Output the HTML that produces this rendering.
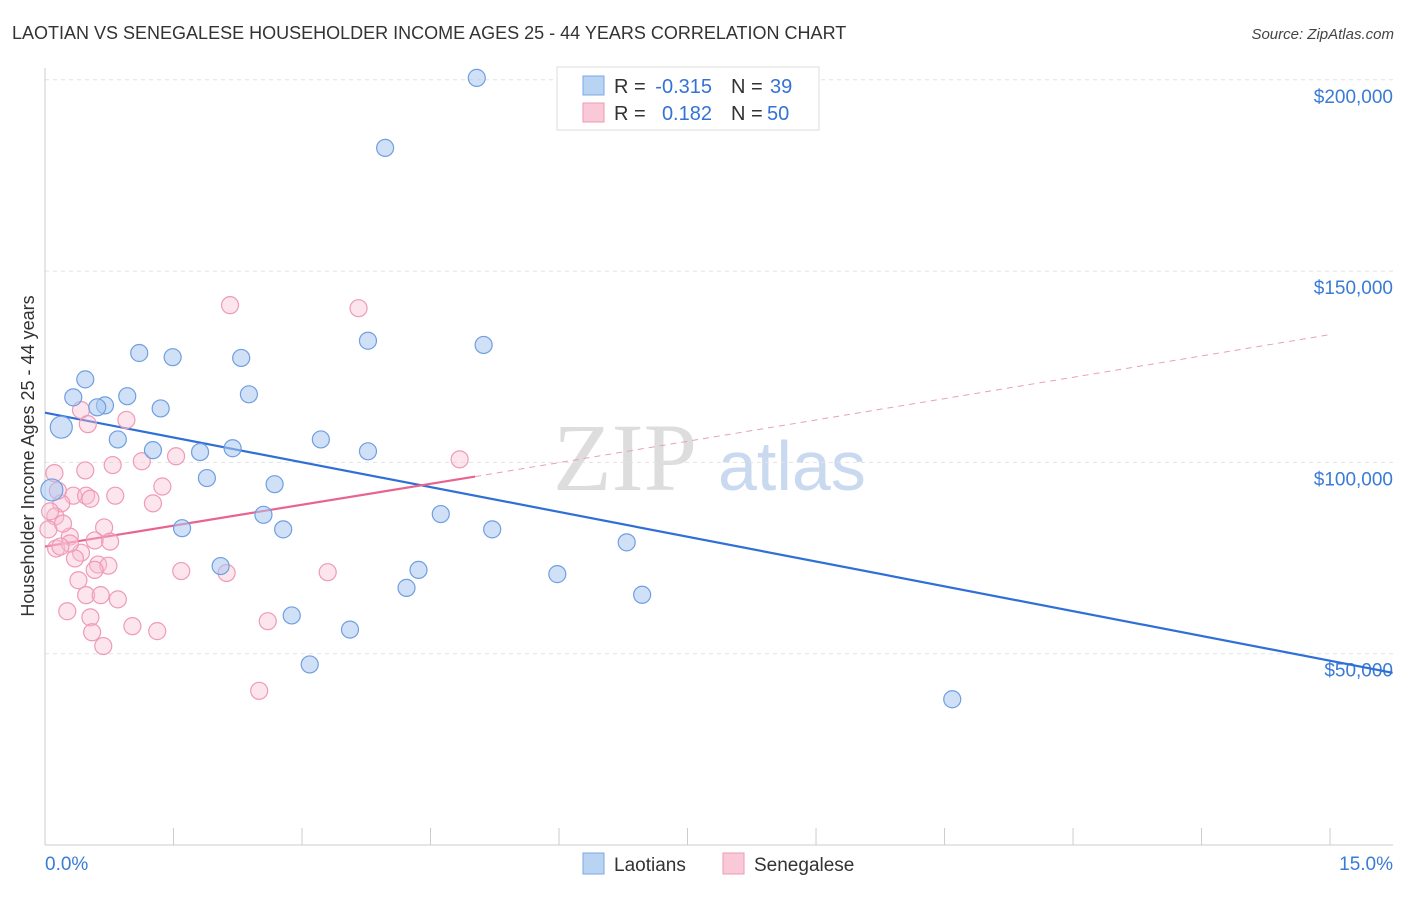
<!DOCTYPE html>
<html><head><meta charset="utf-8"><style>
body{margin:0;background:#fff;font-family:"Liberation Sans",sans-serif}
</style></head><body>
<svg id="chart" width="1406" height="892" xmlns="http://www.w3.org/2000/svg" font-family="Liberation Sans, sans-serif">
<text x="12" y="39" font-size="18" fill="#333">LAOTIAN VS SENEGALESE HOUSEHOLDER INCOME AGES 25 - 44 YEARS CORRELATION CHART</text>
<text x="1394" y="39" font-size="15" fill="#444" text-anchor="end" font-style="italic">Source: ZipAtlas.com</text>
<text transform="translate(34,456) rotate(-90)" font-size="18" fill="#333" text-anchor="middle">Householder Income Ages 25 - 44 years</text>
<g><text x="553" y="490" font-size="96" fill="#ddd" font-family="Liberation Serif, serif">ZIP</text><text x="718" y="490" font-size="70" fill="#c9d9ef">atlas</text></g>
<g id="grid"></g><g id="axes"></g><g id="lines"></g><g id="pts"></g>
<g>
<rect x="557" y="67" width="262" height="63" fill="#fff" stroke="#ddd"/>
<rect x="583" y="76" width="21" height="19" fill="#b9d3f3" stroke="#7aaae6"/>
<rect x="583" y="103" width="21" height="19" fill="#f9c9d8" stroke="#ee9ab5"/>
<text x="614" y="93" font-size="20" fill="#333">R =</text>
<text x="712" y="93" font-size="20" fill="#3473d4" text-anchor="end">-0.315</text>
<text x="731" y="93" font-size="20" fill="#333">N =</text>
<text x="770" y="93" font-size="20" fill="#3473d4">39</text>
<text x="614" y="120" font-size="20" fill="#333">R =</text>
<text x="712" y="120" font-size="20" fill="#3473d4" text-anchor="end">0.182</text>
<text x="731" y="120" font-size="20" fill="#333">N =</text>
<text x="767" y="120" font-size="20" fill="#3473d4">50</text>
</g>
<g>
<rect x="583" y="853" width="21" height="21" fill="#b9d3f3" stroke="#7aaae6"/>
<text x="614" y="871" font-size="19" fill="#333">Laotians</text>
<rect x="723" y="853" width="21" height="21" fill="#f9c9d8" stroke="#ee9ab5"/>
<text x="754" y="871" font-size="19" fill="#333">Senegalese</text>
</g>
</svg>
<script>
const yTicks=[50000,100000,150000,200000];
const yTickLabels=["$50,000","$100,000","$150,000","$200,000"];
const blueX=[5.04,3.97,1.10,1.49,2.29,3.77,5.12,0.47,0.33,0.96,0.70,1.35,2.38,0.19,0.85,1.26,1.81,2.19,3.22,3.77,1.89,2.68,0.08,2.55,4.62,1.60,2.78,5.22,6.79,2.05,4.36,4.22,5.98,6.97,2.88,3.56,3.09,10.59,0.61];
const blueY=[200500,182200,128600,127500,127300,131800,130700,121700,117000,117300,114900,114100,117800,109200,106000,103200,102700,103700,106000,102900,95900,94300,92800,86300,86500,82800,82500,82500,79100,72900,71900,67200,70800,65400,60000,56300,47200,38100,114400];
const pinkX=[2.16,3.66,0.42,0.50,0.95,0.11,0.79,1.13,1.53,4.84,0.33,0.48,0.82,1.37,1.26,0.19,0.12,0.04,0.69,0.29,0.58,0.76,0.13,0.42,0.35,0.62,0.74,0.58,1.59,2.12,3.30,0.39,0.48,0.65,0.85,0.26,0.53,1.02,1.31,2.60,0.55,0.68,2.50,0.21,0.15,0.29,0.47,0.53,0.18,0.06];
const pinkY=[141100,140300,113700,110000,111100,97200,99300,100300,101600,100800,91300,91300,91300,93700,89300,89300,85900,82500,83000,80600,79600,79300,77500,76400,74900,73300,73000,71900,71600,71100,71300,69200,65300,65300,64200,61100,59500,57200,55900,58500,55600,52000,40300,84000,92600,78800,97900,90500,78000,87200];
const xTickLabels=["0.0%","15.0%"];
const X=p=>45+p*85.67, Y=v=>845-v/50000*191.3;
const NS="http://www.w3.org/2000/svg";
function mk(t,a,parent){const e=document.createElementNS(NS,t);for(const k in a)e.setAttribute(k,a[k]);document.getElementById(parent).appendChild(e);return e;}
yTicks.forEach((v,i)=>{
 const l=mk('line',{x1:45,x2:1393,y1:Y(v),y2:Y(v),stroke:'#e3e3e3','stroke-dasharray':'4,4'},'grid');
 
 
 const t=mk('text',{x:1393,y:Y(v)+23,'font-size':19,fill:'#3a7bd5','text-anchor':'end'},'axes');t.textContent=yTickLabels[i];
 
 
});
let a=mk('line',{x1:45,x2:45,y1:68,y2:845,stroke:'#ccc'},'axes');


a=mk('line',{x1:45,x2:1393,y1:845,y2:845,stroke:'#ccc'},'axes');


for(let i=0;i<=10;i++){const t=mk('line',{x1:X(i*1.5),x2:X(i*1.5),y1:828,y2:845,stroke:'#ccc'},'axes');
 
 }
[[0,'start',45],[15,'end',1393]].forEach((d,i)=>{const t=mk('text',{x:d[2],y:870,'font-size':19,fill:'#3a7bd5','text-anchor':d[1]},'axes');t.textContent=xTickLabels[i];
 
 });
let l=mk('line',{x1:X(0),y1:Y(113000),x2:X(15.73),y2:Y(45000),stroke:'#2f6fd6','stroke-width':2.2},'lines');


l=mk('line',{x1:X(0),y1:Y(78000),x2:X(5.02),y2:Y(96300),stroke:'#e8648f','stroke-width':2.2},'lines');


l=mk('line',{x1:X(5.02),y1:Y(96300),x2:X(15),y2:Y(133400),stroke:'#e8a0b8','stroke-width':1,'stroke-dasharray':'6,5'},'lines');


pinkX.forEach((x,i)=>{const c=mk('circle',{cx:X(x),cy:Y(pinkY[i]),r:8.5,fill:'rgba(248,190,210,0.4)',stroke:'#ef9ab7','stroke-width':1.2},'pts');
 
 });
blueX.forEach((x,i)=>{const big=(i==13||i==22);const c=mk('circle',{cx:X(x),cy:Y(blueY[i]),r:big?11:8.5,fill:'rgba(170,200,240,0.55)',stroke:'#6f9fe0','stroke-width':1.2},'pts');
 
 });
</script>
</body></html>
